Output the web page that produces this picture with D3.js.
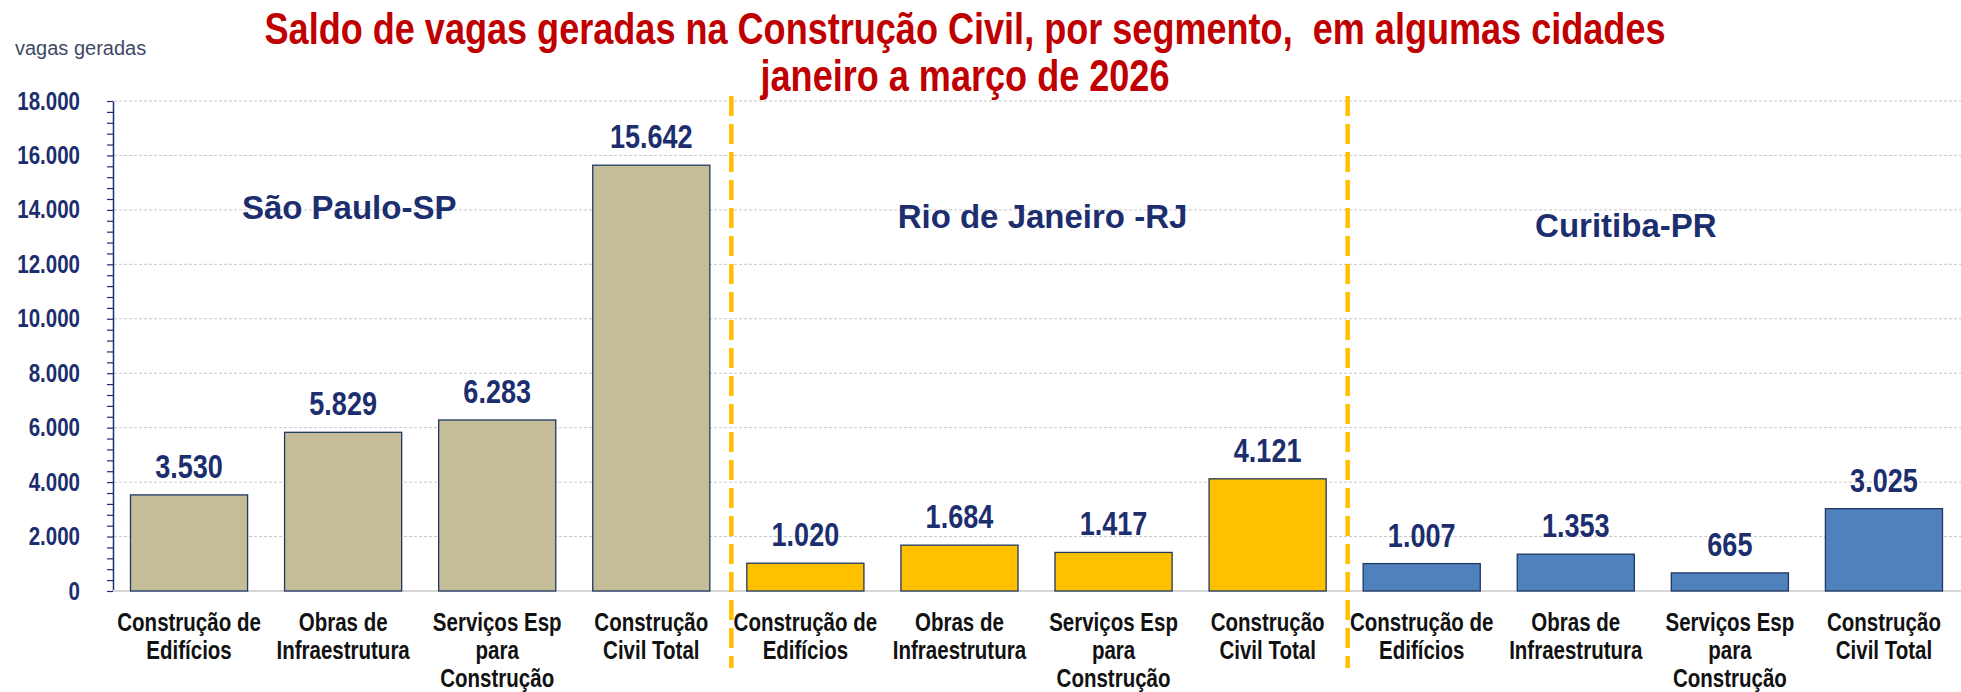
<!DOCTYPE html>
<html>

<head>
    <meta charset="UTF-8">
    <script src="https://d3js.org/d3.v7.min.js"></script>
    <style>
        body {
            margin: 0;
            background-color: #ffffff;
        }

        svg text {
            font-family: 'Liberation Sans', Arial, sans-serif;
        }
    </style>
</head>

<body>
    <svg id="chart" width="1961" height="692"></svg>
    <script>
        // dados do grafico
        var cidades = ["São Paulo-SP", "Rio de Janeiro -RJ", "Curitiba-PR"];
        var segmentos = [
            ["Construção de", "Edifícios"],
            ["Obras de", "Infraestrutura"],
            ["Serviços Esp", "para", "Construção"],
            ["Construção", "Civil Total"]
        ];
        var saoPaulo = [3530, 5829, 6283, 15642];
        var rioDeJaneiro = [1020, 1684, 1417, 4121];
        var curitiba = [1007, 1353, 665, 3025];
        var yTicks = [0, 2000, 4000, 6000, 8000, 10000, 12000, 14000, 16000, 18000];

        var titulo = ["Saldo de vagas geradas na Construção Civil, por segmento,  em algumas cidades",
            "janeiro a março de 2026"];

        var navy = "#1c2e6e";
        var corCidade = d3.scaleOrdinal().domain(cidades).range(["#c4bd97", "#ffc000", "#4f81bd"]);

        var ptBR = d3.formatLocale({ decimal: ",", thousands: ".", grouping: [3], currency: ["R$", ""] });
        var fmt = ptBR.format(",d");

        // simula a fonte Arial Narrow: escala horizontal de 0.82 no texto
        function estreitar(sel) {
            sel.each(function () {
                var t = d3.select(this);
                var tx = +t.attr("x") || 0;
                var ty = +t.attr("y") || 0;
                t.attr("x", 0).attr("y", 0)
                    .attr("transform", "translate(" + tx + "," + ty + ") scale(0.82,1)");
            });
        }

        var valores = [saoPaulo, rioDeJaneiro, curitiba];
        var rows = [];
        cidades.forEach(function (c, ci) {
            segmentos.forEach(function (s, si) {
                rows.push({ cidade: c, ci: ci, si: si, key: ci + "-" + si, linhas: s, valor: valores[ci][si] });
            });
        });

        var svg = d3.select("#chart");

        var x = d3.scaleBand()
            .domain(rows.map(function (d) { return d.key; }))
            .range([112, 1961])
            .paddingInner(0.24)
            .paddingOuter(0.12);

        var y = d3.scaleLinear().domain([0, 18000]).range([591, 101]);

        // linhas de grade
        svg.append("g").selectAll("line")
            .data(yTicks.filter(function (d) { return d > 0; }))
            .enter().append("line")
            .attr("x1", 114).attr("x2", 1961)
            .attr("y1", function (d) { return y(d); })
            .attr("y2", function (d) { return y(d); })
            .attr("stroke", "#c8c8c8")
            .attr("stroke-width", 1)
            .attr("stroke-dasharray", "3,2");

        // eixo y
        var yAxis = svg.append("g")
            .attr("transform", "translate(113,0)")
            .call(d3.axisLeft(y)
                .tickValues(d3.range(0, 18001, 400))
                .tickSize(6)
                .tickSizeOuter(0)
                .tickPadding(27)
                .tickFormat(function (d) { return d % 2000 === 0 ? fmt(d) : ""; }));

        yAxis.select(".domain").attr("stroke", navy).attr("stroke-width", 1.5);
        yAxis.selectAll(".tick line").attr("stroke", navy).attr("stroke-width", 1.2);
        yAxis.selectAll(".tick text")
            .attr("fill", navy)
            .style("font-size", "25px")
            .style("font-weight", "bold")
            .style("font-family", "'Liberation Sans', Arial, sans-serif");
        estreitar(yAxis.selectAll(".tick text"));

        // linha base
        svg.append("line")
            .attr("x1", 113).attr("x2", 1961)
            .attr("y1", y(0)).attr("y2", y(0))
            .attr("stroke", "#d6d6d6")
            .attr("stroke-width", 2);

        // barras
        svg.append("g").selectAll("rect")
            .data(rows)
            .enter().append("rect")
            .attr("x", function (d) { return x(d.key); })
            .attr("y", function (d) { return y(d.valor); })
            .attr("width", x.bandwidth())
            .attr("height", function (d) { return y(0) - y(d.valor); })
            .attr("fill", function (d) { return corCidade(d.cidade); })
            .attr("stroke", "#1f3864")
            .attr("stroke-width", 1.3);

        // rotulos de valor
        var rotulos = svg.append("g").selectAll("text")
            .data(rows)
            .enter().append("text")
            .attr("x", function (d) { return x(d.key) + x.bandwidth() / 2; })
            .attr("y", function (d) { return y(d.valor) - 17; })
            .attr("text-anchor", "middle")
            .attr("fill", navy)
            .style("font-size", "33px")
            .style("font-weight", "bold")
            .text(function (d) { return fmt(d.valor); });
        estreitar(rotulos);

        // rotulos das categorias, uma linha por elemento
        var linhasCat = [];
        rows.forEach(function (d) {
            d.linhas.forEach(function (l, i) {
                linhasCat.push({ texto: l, cx: x(d.key) + x.bandwidth() / 2, i: i });
            });
        });
        var cat = svg.append("g").selectAll("text")
            .data(linhasCat)
            .enter().append("text")
            .attr("x", function (d) { return d.cx; })
            .attr("y", function (d) { return y(0) + 40 + d.i * 28; })
            .attr("text-anchor", "middle")
            .attr("fill", "#111111")
            .style("font-size", "25px")
            .style("font-weight", "bold")
            .text(function (d) { return d.texto; });
        estreitar(cat);

        // separadores entre cidades
        var step = x.step();
        var separadores = [1, 2].map(function (ci) {
            return x(ci + "-0") - step * x.paddingInner() / 2 + 3;
        });
        svg.append("g").selectAll("line")
            .data(separadores)
            .enter().append("line")
            .attr("x1", function (d) { return d; })
            .attr("x2", function (d) { return d; })
            .attr("y1", 96).attr("y2", 668)
            .attr("stroke", "#ffc000")
            .attr("stroke-width", 4.5)
            .attr("stroke-dasharray", "20,8");

        // nomes das cidades
        var deslocX = [-71, 6, -27];
        var baseY = [219, 228, 237];
        svg.append("g").selectAll("text")
            .data(cidades)
            .enter().append("text")
            .attr("x", function (d, i) {
                var ini = x(i + "-0");
                var fim = x(i + "-3") + x.bandwidth();
                return (ini + fim) / 2 + deslocX[i];
            })
            .attr("y", function (d, i) { return baseY[i]; })
            .attr("text-anchor", "middle")
            .attr("fill", navy)
            .style("font-size", "33px")
            .style("font-weight", "bold")
            .text(function (d) { return d; });

        // titulo
        var tit = svg.append("g").selectAll("text")
            .data(titulo)
            .enter().append("text")
            .attr("x", 965)
            .attr("y", function (d, i) { return 44 + i * 47; })
            .attr("text-anchor", "middle")
            .attr("fill", "#c00000")
            .style("font-size", "44px")
            .style("font-weight", "bold")
            .style("white-space", "pre")
            .text(function (d) { return d; });
        estreitar(tit);

        svg.append("text")
            .attr("x", 15)
            .attr("y", 55)
            .attr("fill", "#3e4966")
            .style("font-size", "20px")
            .text("vagas geradas");
    </script>
</body>

</html>
